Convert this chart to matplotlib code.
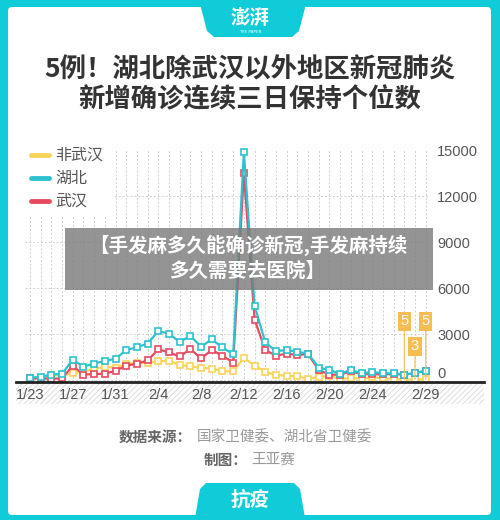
import matplotlib
matplotlib.use("Agg")
import matplotlib.pyplot as plt
from matplotlib.patches import Rectangle, FancyBboxPatch, Polygon
from matplotlib.lines import Line2D
from matplotlib.transforms import ScaledTranslation, blended_transform_factory

plt.rcParams['font.family'] = ['Noto Sans CJK SC', 'DejaVu Sans']
plt.rcParams['hatch.linewidth'] = 0.6

# --- data: daily new confirmed cases, 1/23 .. 2/29 ---
DATES = [f"1/{d}" for d in range(23, 32)] + [f"2/{d}" for d in range(1, 30)]
HUBEI = [105, 180, 323, 371, 1291, 840, 1032, 1220, 1347,
         1921, 2103, 2345, 3156, 2987, 2447, 2841, 2147, 2618, 2097,
         1638, 14840, 4823, 2420, 1843, 1933, 1807, 1693, 775, 631,
         366, 630, 398, 499, 401, 409, 318, 423, 570]
WUHAN = [70, 77, 46, 80, 892, 315, 356, 378, 576,
         894, 1033, 1242, 1967, 1766, 1501, 1985, 1379, 1920, 1552,
         1104, 13436, 3910, 1923, 1548, 1690, 1600, 1660, 615, 319,
         314, 541, 348, 348, 334, 356, 313, 420, 565]
NON_WUHAN = [35, 103, 277, 291, 399, 525, 676, 842, 771,
             1027, 1070, 1103, 1189, 1221, 946, 856, 768, 698, 545,
             534, 1404, 913, 497, 295, 243, 207, 33, 160, 230,
             52, 89, 50, 151, 67, 53, 5, 3, 5]
XTICK_LABELS = ["1/23", "1/27", "1/31", "2/4", "2/8", "2/12", "2/16", "2/20", "2/24", "2/29"]
YTICKS = [0, 3000, 6000, 9000, 12000, 15000]
SERIES = [("非武汉", NON_WUHAN, "#F9D45A"), ("湖北", HUBEI, "#2CC3CF"), ("武汉", WUHAN, "#E84A60")]
ANNOT_DATES = ["2/27", "2/28", "2/29"]

CYAN = "#0FCCD8"
ORANGE = "#F6BE52"
W, H = 500, 520

fig = plt.figure(figsize=(5, 5.2), dpi=100)
fig.patch.set_facecolor(CYAN)

def fx(x): return x / W
def fy(y): return 1 - y / H

# white card + tabs
fig.add_artist(FancyBboxPatch((fx(8), fy(515)), fx(491) - fx(8), fy(7) - fy(515),
                              boxstyle="round,pad=0,rounding_size=0.008",
                              transform=fig.transFigure, fc="white", ec="none", zorder=-3))
top_tab = [(200, 4), (306, 4), (299, 31), (292, 37), (214, 37), (207, 31)]
fig.add_artist(Polygon([(fx(a), fy(b)) for a, b in top_tab], closed=True,
                       transform=fig.transFigure, fc=CYAN, ec="none", zorder=-2))
bot_tab = [(195, 518), (200, 489), (206, 483), (294, 483), (300, 489), (305, 518)]
fig.add_artist(Polygon([(fx(a), fy(b)) for a, b in bot_tab], closed=True,
                       transform=fig.transFigure, fc=CYAN, ec="none", zorder=-2))
fig.text(fx(250), fy(19), "澎湃", color="white", fontsize=14, fontweight="bold",
         ha="center", va="center", style="italic")
fig.text(fx(250), fy(32), "THE PAPER", color="white", fontsize=3, ha="center", va="center",
         family="DejaVu Sans")
fig.text(fx(250), fy(500), "抗疫", color="white", fontsize=14, fontweight="bold",
         ha="center", va="center", style="italic")

# title
fig.text(fx(250), fy(70), "5例！湖北除武汉以外地区新冠肺炎", fontsize=19, fontweight="bold",
         color="#333333", ha="center", va="center")
fig.text(fx(250), fy(100), "新增确诊连续三日保持个位数", fontsize=19, fontweight="bold",
         color="#333333", ha="center", va="center")

# hatched band + baseline
fig.add_artist(Rectangle((fx(16), fy(404)), fx(484) - fx(16), fy(382) - fy(404),
                         transform=fig.transFigure, fc="white", ec="#d9d9d9", lw=0,
                         hatch="//////", zorder=-1))
fig.add_artist(Line2D([fx(16), fx(484)], [fy(381.5), fy(381.5)], transform=fig.transFigure,
                      color="#222222", lw=2, zorder=2))

# chart
ax = fig.add_axes([fx(24.6), fy(381.5), fx(430) - fx(24.6), fy(149.5) - fy(381.5)])
ax.patch.set_alpha(0)
x = list(range(len(DATES)))
for name, vals, col in SERIES[:1] + SERIES[2:] + SERIES[1:2]:
    ax.plot(x, vals, color=col, lw=1.6, marker="s", ms=4.2, mfc="white", mec=col, mew=1.2,
            zorder=3, clip_on=False)
ax.set_xlim(-0.5, 37.4)
ax.set_ylim(-130, 15000)
for s in ax.spines.values():
    s.set_visible(False)
ax.set_xticks(x, minor=True)
ax.set_xticks([DATES.index(d) for d in XTICK_LABELS], XTICK_LABELS,
              family="Liberation Sans", fontsize=10.5, color="#555555")
ax.set_yticks(YTICKS, [])
ax.tick_params(which="both", length=0)
ax.tick_params(axis="x", pad=5)
ax.grid(axis="x", which="both", ls=(0, (2, 2)), lw=0.7, color="#cfcfcf")
ax.grid(axis="y", which="major", ls=(0, (2, 2)), lw=0.7, color="#cfcfcf")
ax.set_axisbelow(True)
bt = blended_transform_factory(ax.transAxes, ax.transData)
for v in YTICKS:
    dy = 0.06 if v == 0 else -0.025
    ax.text(1.0, v, f"{v}", transform=bt + ScaledTranslation(0.07, dy, fig.dpi_scale_trans),
            family="Liberation Sans", fontsize=10.5, color="#555555", ha="left", va="center")

# value boxes for last days (非武汉)
for d, off in zip(ANNOT_DATES, [58, 33, 58]):
    i = DATES.index(d)
    ax.annotate(str(NON_WUHAN[i]), xy=(i, NON_WUHAN[i]), xytext=(0, off),
                textcoords="offset pixels", ha="center", va="center", color="white",
                fontsize=10.5, family="Liberation Sans",
                bbox=dict(boxstyle="square,pad=0.18", fc=ORANGE, ec="none"),
                arrowprops=dict(arrowstyle="-", color=ORANGE, lw=0.8, shrinkA=0, shrinkB=0),
                zorder=4)

# legend (manual, on white block that hides the grid)
fig.add_artist(Rectangle((fx(24), fy(216)), fx(113) - fx(24), fy(139) - fy(216),
                         transform=fig.transFigure, fc="white", ec="none", zorder=1))
for k, (name, vals, col) in enumerate(SERIES):
    yy = 155 + 23 * k
    fig.add_artist(Line2D([fx(31), fx(49)], [fy(yy), fy(yy)], transform=fig.transFigure,
                          color=col, lw=3.5, solid_capstyle="round", zorder=2))
    fig.text(fx(55), fy(yy), name, fontsize=11.5, color="#555555", ha="left", va="center", zorder=2)

# grey overlay caption
fig.add_artist(Rectangle((fx(65), fy(290)), fx(433) - fx(65), fy(228) - fy(290),
                         transform=fig.transFigure, fc="#7a7a7a", ec="none", alpha=0.8, zorder=5))
fig.text(fx(248), fy(245), "【手发麻多久能确诊新冠,手发麻持续", fontsize=14, fontweight="bold",
         color="white", ha="center", va="center", zorder=6)
fig.text(fx(248), fy(271), "多久需要去医院】", fontsize=14, fontweight="bold",
         color="white", ha="center", va="center", zorder=6)

# footer
fig.text(fx(192), fy(437), "数据来源：", fontsize=10.5, fontweight="bold", color="#666666",
         ha="right", va="center")
fig.text(fx(197), fy(437), "国家卫健委、湖北省卫健委", fontsize=10.5, color="#999999",
         ha="left", va="center")
fig.text(fx(248), fy(460), "制图：", fontsize=10.5, fontweight="bold", color="#666666",
         ha="right", va="center")
fig.text(fx(251), fy(460), "王亚赛", fontsize=10.5, color="#999999", ha="left", va="center")

fig.savefig("out.png", dpi=100, facecolor=fig.get_facecolor())
